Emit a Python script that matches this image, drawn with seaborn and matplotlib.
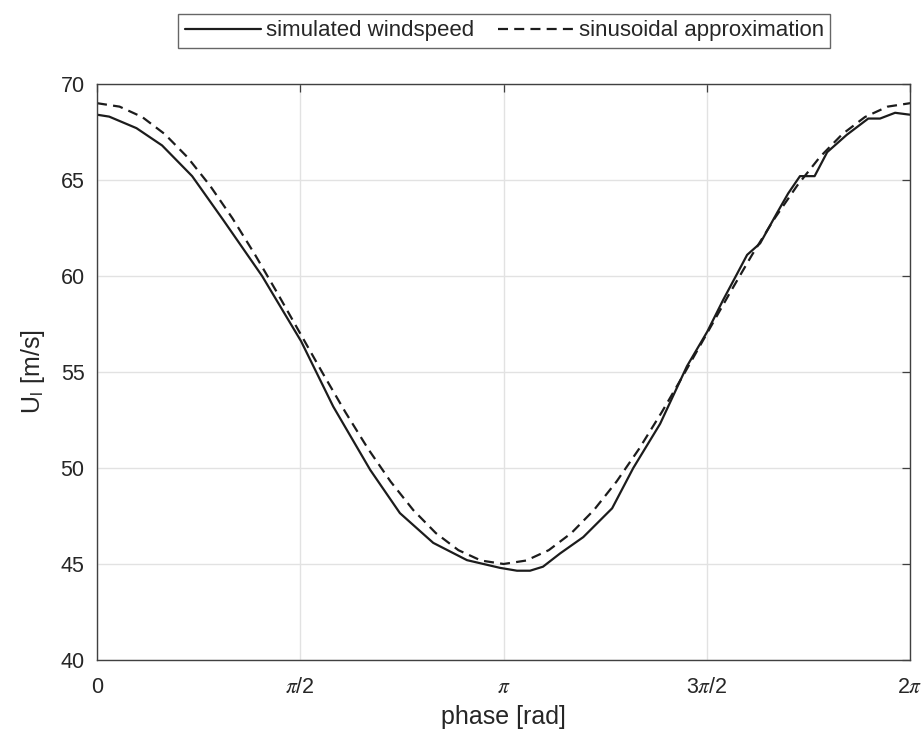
import numpy as np
import pandas as pd
import matplotlib
matplotlib.use('Agg')
import matplotlib.pyplot as plt
import seaborn as sns

# simulated windspeed, phase given in units of pi
sim_phase = [0, 0.030, 0.097, 0.160, 0.234, 0.311, 0.406, 0.502, 0.581, 0.672,
             0.745, 0.827, 0.910, 0.991, 1.033, 1.065, 1.097, 1.139, 1.196, 1.267,
             1.319, 1.385, 1.451, 1.501, 1.540, 1.574, 1.599, 1.631, 1.673, 1.700,
             1.729, 1.765, 1.796, 1.844, 1.897, 1.926, 1.963, 1.992, 2.0]
sim_speed = [68.4, 68.3, 67.7, 66.8, 65.2, 62.9, 60.0, 56.6, 53.2, 49.9,
             47.65, 46.1, 45.2, 44.8, 44.65, 44.65, 44.86, 45.55, 46.4, 47.9,
             50.0, 52.3, 55.3, 57.1, 58.75, 60.1, 61.1, 61.7, 63.3, 64.3,
             65.2, 65.2, 66.45, 67.35, 68.2, 68.2, 68.5, 68.42, 68.4]

# sinusoidal approximation, every 10 degrees
approx_phase = [k / 18 for k in range(37)]
approx_speed = [69.00, 68.82, 68.28, 67.39, 66.19, 64.71, 63.00, 61.10, 59.08, 57.00,
                54.92, 52.90, 51.00, 49.29, 47.81, 46.61, 45.72, 45.18, 45.00, 45.18,
                45.72, 46.61, 47.81, 49.29, 51.00, 52.90, 54.92, 57.00, 59.08, 61.10,
                63.00, 64.71, 66.19, 67.39, 68.28, 68.82, 69.00]

tick_labels = ['0', r'$\pi$/2', r'$\pi$', r'3$\pi$/2', r'2$\pi$']

sns.set_style('white')
plt.rcParams['font.family'] = ['Liberation Sans', 'DejaVu Sans']
plt.rcParams['mathtext.fontset'] = 'stix'

df_sim = pd.DataFrame({'phase': np.array(sim_phase) * np.pi, 'U': sim_speed})
df_app = pd.DataFrame({'phase': np.array(approx_phase) * np.pi, 'U': approx_speed})

fig = plt.figure(figsize=(9.24, 7.38), dpi=100)
ax = fig.add_axes([0.105, 0.1057, 0.880, 0.7805])

sns.lineplot(data=df_sim, x='phase', y='U', ax=ax, color='#1c1c1c', lw=1.6,
             label='simulated windspeed', estimator=None, sort=False)
sns.lineplot(data=df_app, x='phase', y='U', ax=ax, color='#1c1c1c', lw=1.6,
             linestyle=(0, (4.5, 2.8)), label='sinusoidal approximation',
             estimator=None, sort=False)

ax.set_xlim(0, 2 * np.pi)
ax.set_ylim(40, 70)
ax.set_xticks(np.arange(5) * np.pi / 2)
ax.set_xticklabels(tick_labels)
ax.set_yticks(range(40, 71, 5))
ax.grid(True, color='#e2e2e2', lw=1.0)
ax.set_axisbelow(True)
for s in ax.spines.values():
    s.set_color('#404040')
    s.set_linewidth(1.0)
ax.tick_params(direction='in', length=6, width=0.9, color='#404040',
               top=True, right=True, labelsize=15.5, labelcolor='#262626')
ax.tick_params(axis='x', pad=12)
ax.tick_params(axis='y', pad=9)
ax.set_xlabel('phase [rad]', fontsize=18, color='#262626', labelpad=5)
ax.set_ylabel(r'U$_\mathregular{l}$ [m/s]', fontsize=18, color='#262626', labelpad=10)

leg = ax.legend(loc='center', bbox_to_anchor=(0.501, 1.092), ncol=2, fontsize=16,
                frameon=True, fancybox=False, edgecolor='#404040', handlelength=3.4,
                columnspacing=1.05, handletextpad=0.25, borderpad=0.3,
                borderaxespad=0)
leg.get_frame().set_linewidth(1.0)

fig.savefig('out.png', dpi=100)
